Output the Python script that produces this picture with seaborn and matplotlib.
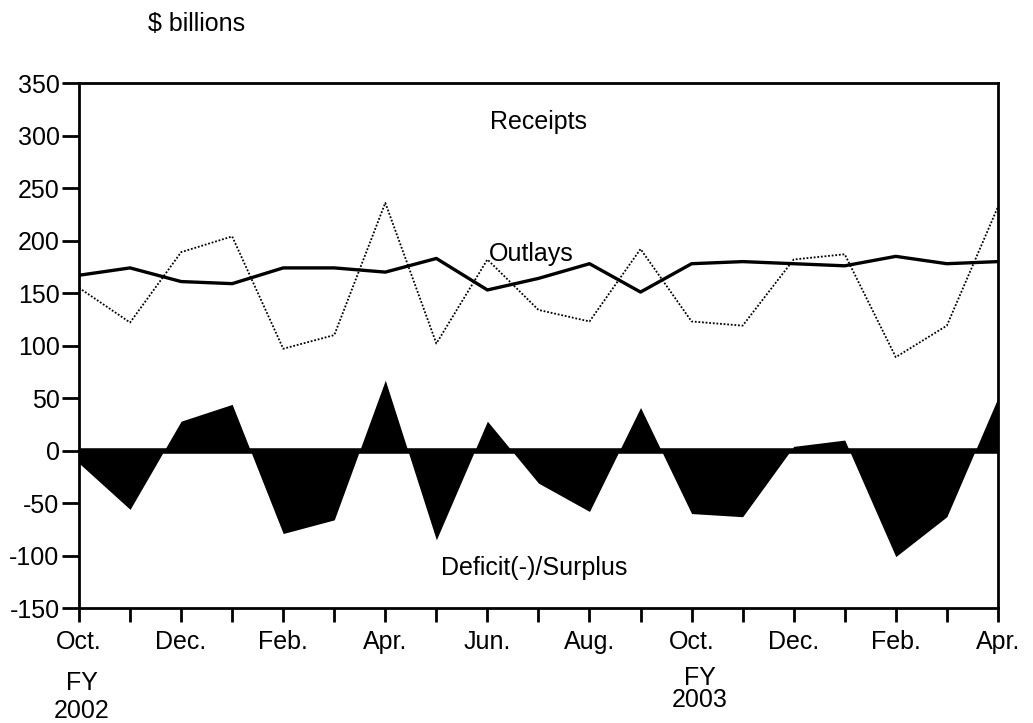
import numpy as np
import pandas as pd
import matplotlib
matplotlib.use("Agg")
import matplotlib.pyplot as plt
import seaborn as sns

# Monthly values, Oct. FY2002 through Apr. FY2003 ($ billions)
months = ["Oct.", "Nov.", "Dec.", "Jan.", "Feb.", "Mar.", "Apr.", "May", "Jun.", "Jul.",
          "Aug.", "Sep.", "Oct.", "Nov.", "Dec.", "Jan.", "Feb.", "Mar.", "Apr."]
receipts = [155, 122, 189, 204, 97, 110, 236, 102, 182, 134,
            123, 192, 123, 119, 182, 187, 89, 119, 232]
outlays = [167, 174, 161, 159, 174, 174, 170, 183, 153, 164,
           178, 151, 178, 180, 178, 176, 185, 178, 180]
deficit = [-12, -56, 28, 44, -79, -66, 67, -85, 28, -31,
           -58, 41, -60, -63, 4, 10, -101, -63, 50]

df = pd.DataFrame({"idx": np.arange(len(months)), "month": months,
                   "receipts": receipts, "outlays": outlays, "deficit": deficit})

sns.set_style("white")
plt.rcParams["font.family"] = ["Liberation Sans", "DejaVu Sans"]
plt.rcParams["text.color"] = "black"
plt.rcParams["axes.unicode_minus"] = False

fig = plt.figure(figsize=(10.33, 7.23), dpi=100)
ax = fig.add_axes([0.0765, 0.159, 0.8895, 0.726])

# deficit / surplus area
ax.fill_between(df["idx"], df["deficit"], 0, color="black", linewidth=0)
ax.axhline(0, color="black", linewidth=4)

sns.lineplot(data=df, x="idx", y="outlays", color="black", linewidth=2.4, ax=ax)
sns.lineplot(data=df, x="idx", y="receipts", color="black", linewidth=1.3,
             linestyle=(0, (1, 1)), ax=ax)

ax.set_xlim(0, 18)
ax.set_ylim(-150, 350)
ax.set_yticks(np.arange(-150, 351, 50))
ax.set_xticks(df["idx"])
ax.set_xticklabels([m if i % 2 == 0 else "" for i, m in enumerate(months)])
ax.set_xlabel("")
ax.set_ylabel("")

for s in ax.spines.values():
    s.set_visible(True)
    s.set_color("black")
    s.set_linewidth(2)

ax.tick_params(axis="both", direction="out", length=12, width=2, color="black",
               labelcolor="black", labelsize=18, pad=2, left=True, bottom=True)
ax.tick_params(axis="x", length=10, pad=6)

fs = 18
fig.text(148 / 1033, 1 - 24 / 723, "$ billions", fontsize=fs, ha="left", va="center")
fig.text(538 / 1033, 1 - 122 / 723, "Receipts", fontsize=fs, ha="center", va="center")
fig.text(531 / 1033, 1 - 254 / 723, "Outlays", fontsize=fs, ha="center", va="center")
fig.text(534 / 1033, 1 - 568 / 723, "Deficit(-)/Surplus", fontsize=fs, ha="center", va="center")
fig.text(82 / 1033, 1 - 697 / 723, "FY\n2002", fontsize=fs, ha="center", va="center",
         linespacing=1.2)
fig.text(700 / 1033, 1 - 689 / 723, "FY\n2003", fontsize=fs, ha="center", va="center",
         linespacing=0.88)

fig.savefig("out.png", dpi=100)
